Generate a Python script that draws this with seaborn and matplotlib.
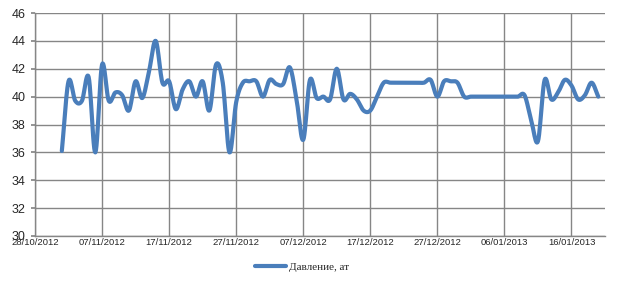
import numpy as np
import pandas as pd
import matplotlib
matplotlib.use("Agg")
import matplotlib.pyplot as plt
import matplotlib.dates as mdates
import seaborn as sns

# ---- data (daily readings) ----
start_date = "2012-11-01"
pressure = [
    36.1, 41.1, 39.7, 39.7, 41.4, 36.0, 42.3, 39.7, 40.3, 40.1,   # 01/11 - 10/11
    39.0, 41.1, 39.9, 41.8, 44.0, 41.0, 41.1, 39.1, 40.5, 41.1,   # 11/11 - 20/11
    40.0, 41.1, 39.0, 42.3, 41.0, 36.0, 39.6, 41.0, 41.1, 41.1,   # 21/11 - 30/11
    40.0, 41.2, 40.9, 40.9, 42.1, 39.8, 36.9, 41.2, 39.9, 40.0,   # 01/12 - 10/12
    39.8, 42.0, 39.8, 40.2, 39.8, 39.0, 39.0, 40.0, 41.0, 41.0,   # 11/12 - 20/12
    41.0, 41.0, 41.0, 41.0, 41.0, 41.2, 40.0, 41.1, 41.1, 41.0,   # 21/12 - 30/12
    40.0, 40.0, 40.0, 40.0, 40.0, 40.0, 40.0, 40.0, 40.0, 40.1,   # 31/12 - 09/01
    38.3, 36.8, 41.2, 39.8, 40.3, 41.2, 40.8, 39.8, 40.1, 41.0,   # 10/01 - 19/01
    40.0,                                                         # 20/01
]
series_name = "Давление, ат"
tick_dates = ["2012-10-28", "2012-11-07", "2012-11-17", "2012-11-27", "2012-12-07",
              "2012-12-17", "2012-12-27", "2013-01-06", "2013-01-16"]
x_limits = ["2012-10-28", "2013-01-21"]
y_ticks = [30, 32, 34, 36, 38, 40, 42, 44, 46]

dates = pd.date_range(start_date, periods=len(pressure), freq="D")


def smooth(x, y, n=12):
    """Catmull-Rom rendering of a line through the points (like a smoothed line)."""
    x = np.asarray(x, float); y = np.asarray(y, float)
    px = np.concatenate([[2 * x[0] - x[1]], x, [2 * x[-1] - x[-2]]])
    py = np.concatenate([[2 * y[0] - y[1]], y, [2 * y[-1] - y[-2]]])
    t = np.linspace(0, 1, n, endpoint=False)
    xs, ys = [], []
    for i in range(1, len(px) - 2):
        for arr, out in ((px, xs), (py, ys)):
            p0, p1, p2, p3 = arr[i - 1], arr[i], arr[i + 1], arr[i + 2]
            out.append(0.5 * ((2 * p1) + (-p0 + p2) * t + (2 * p0 - 5 * p1 + 4 * p2 - p3) * t ** 2
                              + (-p0 + 3 * p1 - 3 * p2 + p3) * t ** 3))
    xs = np.concatenate(xs + [[x[-1]]]); ys = np.concatenate(ys + [[y[-1]]])
    return xs, ys


xnum = mdates.date2num(dates)
sx, sy = smooth(xnum, pressure)
df = pd.DataFrame({"date": mdates.num2date(sx), "value": sy, "series": series_name})
df["date"] = pd.to_datetime(df["date"]).dt.tz_localize(None)

sns.set_theme(style="white")
plt.rcParams["font.family"] = ["Liberation Sans", "DejaVu Sans"]

fig = plt.figure(figsize=(6.17, 2.85), dpi=100)
ax_h = 223 / 285
ax_b = 1 - 236 / 285
ax = fig.add_axes([35 / 617, ax_b, 570 / 617, ax_h])

sns.lineplot(data=df, x="date", y="value", hue="series", palette=["#4A7EBB"],
             linewidth=3.0, sort=False, estimator=None, ax=ax)

ax.set_xlim(pd.Timestamp(x_limits[0]), pd.Timestamp(x_limits[1]))
ax.set_ylim(y_ticks[0], y_ticks[-1])
ax.set_yticks(y_ticks)
ax.set_xticks([pd.Timestamp(d) for d in tick_dates])
ax.xaxis.set_major_formatter(mdates.DateFormatter("%d/%m/%Y"))
ax.tick_params(axis="x", labelsize=6.8, pad=1.5, length=0)
ax.tick_params(axis="y", labelsize=9, pad=4, length=3, color="#868686", direction="out", left=True)
ax.grid(True, color="#868686", linewidth=1)
ax.set_xlabel("")
ax.set_ylabel("")
for s in ("top", "right"):
    ax.spines[s].set_visible(False)
for s in ("left", "bottom"):
    ax.spines[s].set_color("#868686")
    ax.spines[s].set_linewidth(1)

leg_y = ((1 - 267 / 285) - ax_b) / ax_h
leg = ax.legend(loc="center", bbox_to_anchor=((302 - 35) / 570, leg_y),
                frameon=False, fontsize=8, handlelength=2.8, handletextpad=0.3,
                bbox_transform=ax.transAxes)
for t in leg.get_texts():
    t.set_family(["Liberation Serif", "DejaVu Serif"])

fig.savefig("out.png", dpi=100)
